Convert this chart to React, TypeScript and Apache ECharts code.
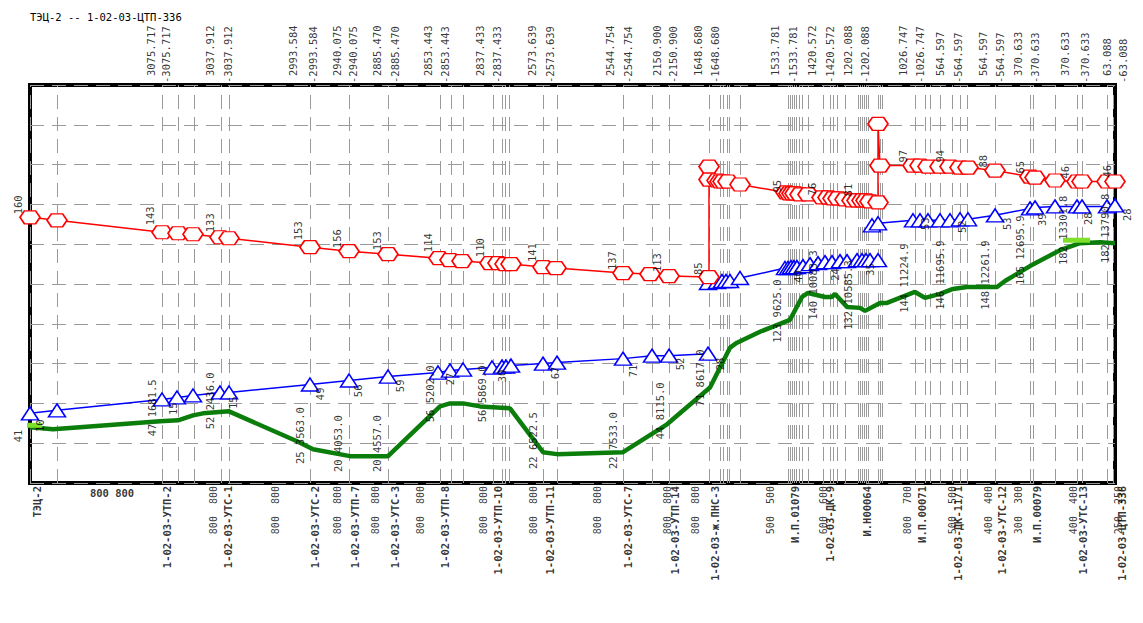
import React, { useEffect, useRef } from "react";
import * as echarts from "echarts";

const MONO = '"DejaVu Sans Mono", "Liberation Mono", monospace';
const TITLE = "ТЭЦ-2 -- 1-02-03-ЦТП-336";

// node positions along the route (vertical dashed grid lines)
const gridX = [0, 27, 132, 148, 164, 191, 199, 280, 319, 358, 410, 421, 433, 463, 472, 475, 479, 513, 527, 593, 622, 639, 679, 690, 693, 697, 699, 710,
  758, 760, 762, 764, 766, 769, 772, 778, 793, 800, 803, 807, 815, 828, 830, 832, 834, 836, 838, 848, 850, 852,
  885, 895, 900, 910, 922, 930, 937, 965, 1000, 1003, 1025, 1047, 1052, 1077, 1083];

// supply head line (red)
const redHead = [
  [0, 267], [27, 264], [132, 252], [148, 251], [163, 250], [190, 247], [199, 246], [280, 237], [319, 233], [358, 230],
  [409, 226], [420, 224], [432, 223], [460, 221], [468, 221], [475, 220], [481, 220], [513, 217], [526, 216], [593, 211],
  [620, 210], [639, 208], [679, 207], [679, 318], [679, 305], [687, 304], [690, 303], [693, 303], [698, 303], [710, 300],
  [756, 292], [759, 291], [762, 291], [765, 291], [770, 290], [778, 290], [792, 287], [798, 287], [803, 286], [808, 286],
  [815, 285], [822, 284], [827, 284], [832, 284], [836, 284], [840, 283], [848, 282], [848, 361], [850, 319], [883, 319],
  [890, 319], [898, 318], [910, 318], [920, 318], [930, 317], [938, 317], [965, 314], [1000, 308], [1005, 307], [1025, 304],
  [1047, 303], [1052, 303], [1077, 303], [1085, 303],
];

// return head line (blue), three sections
const blueA = [
  [0, 70], [27, 73], [132, 84], [147, 86], [163, 88], [190, 91], [199, 91], [280, 99], [319, 103], [358, 107],
  [408, 111], [420, 113], [433, 114], [462, 116], [472, 117], [476, 117], [481, 118], [513, 120], [527, 121], [593, 125],
  [622, 128], [639, 128], [678, 130],
];
const blueB = [
  [678, 201], [687, 202], [692, 203], [696, 203], [700, 203], [710, 206], [755, 216], [758, 216], [761, 217], [764, 217],
  [767, 217], [773, 218], [780, 220], [788, 221], [795, 222], [802, 222], [810, 223], [817, 223], [827, 224], [832, 224],
  [836, 224], [840, 224], [848, 224],
];
const blueC = [
  [842, 259], [848, 261], [883, 264], [890, 264], [898, 264], [910, 264], [920, 264], [930, 265], [938, 265], [965, 269],
  [1000, 276], [1005, 277], [1025, 278], [1047, 278], [1052, 278], [1077, 278], [1085, 279],
];

// ground profile (green)
const ground = [
  [0, 56], [23, 54], [130, 62], [148, 63], [163, 68], [173, 70], [199, 72], [267, 42], [283, 34], [320, 27],
  [358, 27], [410, 77], [420, 80], [433, 80], [450, 77], [480, 75], [513, 31], [527, 29], [593, 31], [637, 59],
  [680, 96], [700, 136], [707, 141], [730, 152], [760, 164], [772, 187], [778, 191], [795, 187], [802, 187], [805, 190],
  [817, 177], [830, 176], [835, 173], [850, 181], [857, 181], [885, 192], [895, 186], [910, 190], [923, 195], [937, 197],
  [967, 197], [975, 203], [1000, 218], [1030, 234], [1050, 241], [1070, 242], [1085, 241],
];

// static head marks (light green)
const staticA = [[-13, 58], [12, 58]];
const staticB = [[1033, 244], [1060, 244]];

// labels: [x, y, text]
const redLabels = [
  [-12, 270, "160"], [120, 259, "143"], [180, 252, "133"], [268, 244, "153"], [307, 236, "156"], [347, 234, "153"],
  [398, 232, "114"], [450, 227, "110"], [502, 222, "141"], [582, 214, "137"], [627, 212, "113"], [668, 209, "85"],
  [747, 292, "95"], [782, 289, "76"], [818, 288, "81"], [873, 322, "97"], [910, 322, "94"], [953, 317, "88"],
  [990, 311, "65"], [1035, 306, "46"], [1077, 307, "46"],
];
const blueLabels = [
  [10, 64, "10"], [143, 81, "15"], [203, 87, "15"], [290, 96, "49"], [328, 99, "56"], [370, 104, "59"],
  [420, 111, "27"], [472, 114, "30"], [525, 117, "67"], [603, 119, "71"], [650, 126, "52"], [690, 126, "28"],
  [768, 214, "40"], [805, 216, "24"], [840, 221, "35"], [895, 267, "53"], [932, 264, "52"], [977, 267, "53"],
  [1012, 271, "39"], [1058, 272, "28"], [1097, 276, "28"],
];
const groundLabels = [
  [-12, 41, "41"], [122, 47, "47 1681.5"], [180, 54, "52 2436.0"], [270, 19, "25 3563.0"], [308, 11, "20 4053.0"],
  [347, 11, "20 4557.0"], [400, 61, "56 5202.0"], [452, 61, "56 5869.0"], [503, 14, "22 6522.5"], [583, 14, "22 7533.0"],
  [630, 44, "44 8115.0"], [670, 77, "71 8617.0"], [747, 141, "123 9625.0"], [783, 164, "140 10083.3"],
  [818, 154, "132 10585.3"], [874, 171, "144 11224.9"], [910, 174, "146 11695.9"], [955, 174, "148 12261.9"],
  [990, 199, "165 12695.9"], [1033, 219, "182 13301.8"], [1075, 221, "182 13790.8"],
];

// distances to the end (top)
const distLabels = [
  [121, "3075.717"], [136, "-3075.717"], [180, "3037.912"], [198, "-3037.912"], [263, "2993.584"], [283, "-2993.584"],
  [307, "2940.075"], [323, "-2940.075"], [347, "2885.470"], [365, "-2885.470"], [398, "2853.443"], [415, "-2853.443"],
  [450, "2837.433"], [467, "-2837.433"], [502, "2573.639"], [520, "-2573.639"], [580, "2544.754"], [598, "-2544.754"],
  [627, "2150.900"], [643, "-2150.900"], [668, "1648.680"], [685, "-1648.680"], [745, "1533.781"], [763, "-1533.781"],
  [782, "1420.572"], [800, "-1420.572"], [818, "1202.088"], [835, "-1202.088"], [873, "1026.747"], [890, "-1026.747"],
  [910, "564.597"], [928, "-564.597"], [953, "564.597"], [970, "-564.597"], [988, "370.633"], [1005, "-370.633"],
  [1035, "370.633"], [1055, "-370.633"], [1077, "63.088"], [1093, "-63.088"],
];

// node names (bottom)
const nodeNames = [
  [7, "ТЭЦ-2"], [137, "1-02-03-УТП-2"], [198, "1-02-03-УТС-1"], [285, "1-02-03-УТС-2"], [325, "1-02-03-УТП-7"],
  [365, "1-02-03-УТС-3"], [415, "1-02-03-УТП-8"], [468, "1-02-03-УТП-10"], [520, "1-02-03-УТП-11"], [598, "1-02-03-УТС-7"],
  [645, "1-02-03-УТП-14"], [685, "1-02-03-ж.ПНС-3"], [765, "И.П.01079"], [800, "1-02-03-ДК-9"], [837, "И.Н00064"],
  [892, "И.П.00071"], [928, "1-02-03-ДК-11/1"], [972, "1-02-03-УТС-12"], [1007, "И.П.00079"], [1053, "1-02-03-УТС-13"],
  [1092, "1-02-03-ЦТП-336"],
];

// pipe diameters (bottom)
const diameters = [
  [183, "800  800"], [245, "800  800"], [307, "800  800"], [345, "800  800"], [390, "800  800"], [453, "800  800"],
  [503, "800  800"], [567, "800  800"], [637, "800  800"], [665, "800  800"], [740, "500  500"], [793, "600  600"],
  [877, "800  700"], [922, "500  500"], [958, "400  400"], [988, "300  300"], [1043, "400  400"], [1088, "250  250"],
];
const firstDiameter = [[82, -10, "800 800"]];

const HEX = "path://M0,6L4,0L14,0L18,6L14,12L4,12Z";

function nb(s: string) {
  return s.replace(/ /g, "\u00a0");
}

function labelSeries(id: string, items: any[], align: string, opts: any = {}) {
  return {
    type: "scatter",
    id,
    data: items.map((d) => ({ value: [d[0], d[1]], label: { formatter: nb(String(d[2])) } })),
    symbol: "rect",
    symbolSize: 1,
    itemStyle: { color: "rgba(0,0,0,0)" },
    silent: true,
    clip: false,
    z: opts.z ?? 6,
    label: {
      show: true,
      position: "inside",
      rotate: opts.rotate ?? 90,
      align,
      verticalAlign: "middle",
      fontFamily: MONO,
      fontSize: opts.fontSize ?? 10.5,
      fontWeight: opts.fontWeight ?? "normal",
      color: "#000",
    },
  };
}

export default function App() {
  const ref = useRef<HTMLDivElement>(null);
  useEffect(() => {
    if (!ref.current) return;
    const chart = echarts.init(ref.current, undefined, { renderer: "svg" });
    const blueStyle = {
      type: "line",
      symbol: "triangle",
      symbolSize: [17, 13],
      showAllSymbol: true,
      lineStyle: { color: "#0000ff", width: 1.5 },
      itemStyle: { color: "#ffffff", borderColor: "#0000ff", borderWidth: 1.5 },
      silent: true,
      z: 4,
    };
    chart.setOption({
      animation: false,
      backgroundColor: "#ffffff",
      grid: { left: 30, right: 28, top: 85, bottom: 140, show: true, borderColor: "#000", borderWidth: 4, backgroundColor: "rgba(0,0,0,0)" },
      xAxis: {
        type: "value", min: 0, max: 1085,
        axisLine: { show: false }, axisTick: { show: false }, axisLabel: { show: false }, splitLine: { show: false },
      },
      yAxis: {
        type: "value", min: 0, max: 400, interval: 40,
        axisLine: { show: false }, axisTick: { show: false }, axisLabel: { show: false },
        splitLine: { show: true, lineStyle: { color: "#9a9a9a", width: 1, type: [14, 8] } },
      },
      graphic: [
        { type: "text", left: 30, top: 11, style: { text: TITLE, font: `10.5px ${MONO}`, fill: "#000" } },
      ],
      series: [
        {
          type: "line",
          id: "grid-lines",
          data: [[0, 0]],
          showSymbol: false,
          lineStyle: { width: 0 },
          silent: true,
          z: 1,
          markLine: {
            silent: true,
            symbol: ["none", "none"],
            label: { show: false },
            z: 1,
            lineStyle: { color: "#9a9a9a", width: 1, type: [14, 8] },
            data: gridX.map((x) => ({ xAxis: x })),
          },
        },
        {
          type: "line",
          id: "ground",
          data: ground,
          showSymbol: false,
          lineStyle: { color: "#0b7d0b", width: 4.5 },
          silent: true,
          z: 3,
        },
        {
          type: "line", id: "staticA", data: staticA, showSymbol: false, clip: false,
          lineStyle: { color: "#7ee02a", width: 5 }, silent: true, z: 3,
        },
        {
          type: "line", id: "staticB", data: staticB, showSymbol: false, clip: false,
          lineStyle: { color: "#7ee02a", width: 5 }, silent: true, z: 3,
        },
        { ...blueStyle, id: "blueA", data: blueA },
        { ...blueStyle, id: "blueB", data: blueB },
        { ...blueStyle, id: "blueC", data: blueC },
        {
          type: "line",
          id: "red",
          data: redHead,
          symbol: HEX,
          symbolSize: [20, 13],
          showAllSymbol: true,
          lineStyle: { color: "#ff0000", width: 1.5 },
          itemStyle: { color: "#ffffff", borderColor: "#ff0000", borderWidth: 1.5 },
          silent: true,
          z: 4,
        },
        labelSeries("redLabels", redLabels, "left"),
        labelSeries("blueLabels", blueLabels, "right"),
        labelSeries("groundLabels", groundLabels, "left"),
        labelSeries("dist", distLabels.map((d) => [d[0], String(d[1]).startsWith("-") ? 402 : 409, d[1]]), "left", { fontSize: 10.5 }),
        labelSeries("names", nodeNames.map((d) => [d[0], -3, d[1]]), "right", { fontWeight: "bold", fontSize: 10.5 }),
        labelSeries("diam", diameters.map((d) => [d[0], -3, d[1]]), "right", { fontSize: 10 }),
        labelSeries("diam0", firstDiameter, "center", { rotate: 0, fontWeight: "bold", fontSize: 10.5 }),
      ],
    });
    return () => chart.dispose();
  }, []);
  return (
    <div
      ref={ref}
      style={{ position: "fixed", left: 0, top: 0, width: 1143, height: 623, background: "#fff" }}
    />
  );
}
